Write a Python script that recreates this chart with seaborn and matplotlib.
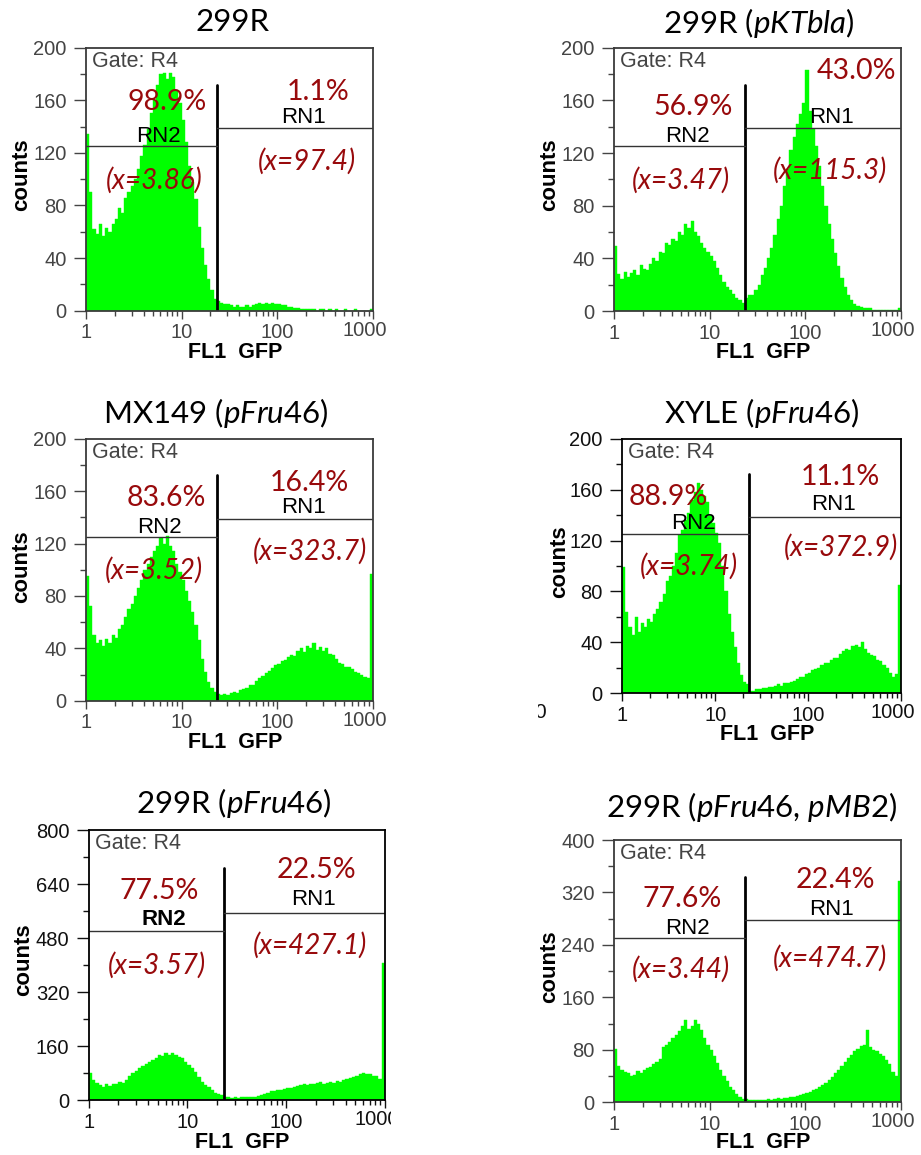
import numpy as np
import pandas as pd
import matplotlib
matplotlib.use("Agg")
import matplotlib.pyplot as plt
from matplotlib.patches import Rectangle
from matplotlib.ticker import FixedLocator, FixedFormatter, NullFormatter, MultipleLocator
import seaborn as sns

W, H = 921, 1155

# ---------------- data (counts per channel, 30 channels / decade, 1..1000) ----------------
titles = ["299R",
          "299R ($\\mathit{pKTbla}$)",
          "MX149 ($\\mathit{pFru46}$)",
          "XYLE ($\\mathit{pFru46}$)",
          "299R ($\\mathit{pFru46}$)",
          "299R ($\\mathit{pFru46}$, $\\mathit{pMB2}$)"]
y_max = [200, 200, 200, 200, 800, 400]
y_step = [40, 40, 40, 40, 160, 80]
x_ticks = [1, 10, 100, 1000]
x_tick_labels = ["1", "10", "100", "1000"]
gate_x = 23.3
pct_rn2 = ["98.9%", "56.9%", "83.6%", "88.9%", "77.5%", "77.6%"]
pct_rn1 = ["1.1%", "43.0%", "16.4%", "11.1%", "22.5%", "22.4%"]
mean_rn2 = ["(x=3.86)", "(x=3.47)", "(x=3.52)", "(x=3.74)", "(x=3.57)", "(x=3.44)"]
mean_rn1 = ["(x=97.4)", "(x=115.3)", "(x=323.7)", "(x=372.9)", "(x=427.1)", "(x=474.7)"]

counts_299R = [134, 90, 62, 58, 66, 57, 63, 60, 66, 70,
               78, 74, 86, 90, 95, 100, 108, 118, 126, 138,
               150, 160, 172, 180, 181, 176, 181, 178, 168, 158,
               145, 128, 110, 98, 85, 64, 48, 35, 24, 16,
               9, 7, 6, 5, 5, 4, 3, 4, 3, 3,
               4, 3, 4, 5, 6, 5, 6, 5, 6, 5,
               5, 4, 4, 3, 3, 2, 2, 1, 1, 1,
               1, 1, 0, 1, 1, 0, 1, 0, 1, 0,
               0, 1, 0, 0, 1, 0, 0, 0, 0, 1]
counts_pKTbla = [49, 28, 24, 30, 26, 29, 31, 27, 35, 32,
                 31, 36, 40, 38, 45, 44, 52, 50, 55, 53,
                 60, 58, 66, 63, 68, 60, 57, 52, 48, 45,
                 42, 38, 33, 27, 22, 18, 16, 13, 10, 8,
                 6, 10, 12, 12, 16, 20, 27, 33, 40, 48,
                 58, 70, 80, 95, 108, 122, 132, 142, 150, 158,
                 183, 152, 138, 125, 110, 95, 80, 66, 55, 44,
                 34, 25, 18, 12, 8, 5, 4, 3, 2, 2,
                 2, 1, 1, 1, 1, 1, 1, 1, 1, 2]
counts_MX149 = [95, 72, 50, 44, 46, 42, 47, 44, 50, 48,
                55, 58, 64, 70, 74, 80, 86, 92, 100, 104,
                110, 114, 118, 124, 120, 126, 118, 114, 104, 98,
                92, 84, 76, 68, 58, 46, 32, 22, 14, 10,
                7, 5, 4, 5, 4, 6, 7, 6, 8, 9,
                10, 12, 12, 15, 17, 19, 21, 23, 25, 27,
                28, 30, 31, 33, 35, 34, 38, 40, 37, 42,
                40, 44, 39, 41, 38, 40, 36, 35, 32, 29,
                28, 26, 26, 24, 22, 21, 20, 18, 17, 97]
counts_XYLE = [99, 64, 52, 46, 60, 48, 55, 52, 58, 56,
               62, 66, 72, 78, 88, 92, 100, 110, 124, 128,
               136, 142, 152, 158, 165, 160, 155, 150, 140, 134,
               126, 118, 100, 80, 62, 48, 36, 24, 14, 9,
               7, 2, 2, 3, 3, 4, 4, 5, 5, 6,
               7, 6, 8, 8, 9, 10, 11, 13, 13, 15,
               16, 18, 19, 20, 22, 24, 24, 26, 28, 28,
               31, 33, 35, 34, 37, 38, 36, 40, 35, 32,
               30, 29, 26, 25, 22, 20, 16, 13, 15, 85]
counts_pFru46 = [80, 58, 50, 44, 40, 46, 42, 48, 46, 52,
                 50, 60, 72, 80, 86, 95, 100, 106, 112, 118,
                 126, 134, 130, 140, 134, 138, 132, 128, 124, 112,
                 104, 95, 84, 68, 52, 44, 38, 30, 22, 18,
                 14, 8, 8, 7, 8, 7, 8, 8, 9, 10,
                 10, 12, 14, 18, 22, 26, 28, 30, 29, 34,
                 36, 36, 40, 43, 44, 46, 44, 48, 46, 50,
                 52, 48, 50, 52, 50, 55, 54, 58, 62, 66,
                 68, 72, 76, 80, 76, 78, 72, 70, 62, 405]
counts_pMB2 = [82, 55, 50, 46, 44, 40, 42, 48, 44, 50,
               52, 54, 58, 62, 66, 84, 88, 92, 98, 102,
               108, 116, 126, 112, 116, 126, 120, 110, 98, 88,
               80, 70, 60, 50, 40, 32, 24, 18, 12, 8,
               5, 5, 3, 4, 3, 3, 4, 3, 5, 4,
               5, 6, 5, 7, 6, 8, 8, 10, 11, 13,
               14, 16, 19, 20, 24, 26, 30, 34, 38, 44,
               50, 56, 62, 68, 72, 78, 82, 86, 88, 110,
               84, 80, 78, 74, 70, 64, 58, 46, 40, 338]
panel_counts = [counts_299R, counts_pKTbla, counts_MX149,
                counts_XYLE, counts_pFru46, counts_pMB2]

# ---------------- layout (pixels) ----------------
axes_px = [(86, 47.7, 373, 310.7), (614, 47.7, 901, 311),
           (86, 438.7, 373, 700.7), (622.3, 438.7, 901, 693.3),
           (88.7, 830.3, 385, 1100), (614, 840, 901, 1102.3)]
title_px = [(233, 30.7), (759, 33.3), (216, 423.3), (762, 423.3), (233.7, 812.7), (752, 817.3)]
xlabel_px = [(235, 352), (763, 352), (235, 742), (766.7, 735), (242, 1142), (763, 1143)]
ylabel_px = [(21.7, 175), (550, 175), (21.7, 566.7), (560, 561.7), (23.3, 960), (550, 966.7)]
txt_pos = [
    dict(p2=(0.282, 0.795), p1=(0.81, 0.833), r2=(0.254, 0.664), r1=(0.757, 0.736), m2=(0.237, 0.497), m1=(0.77, 0.569)),
    dict(p2=(0.276, 0.773), p1=(0.846, 0.911), r2=(0.257, 0.664), r1=(0.758, 0.735), m2=(0.232, 0.497), m1=(0.753, 0.535)),
    dict(p2=(0.281, 0.772), p1=(0.779, 0.832), r2=(0.255, 0.662), r1=(0.758, 0.737), m2=(0.237, 0.496), m1=(0.781, 0.569)),
    dict(p2=(0.165, 0.772), p1=(0.781, 0.848), r2=(0.255, 0.667), r1=(0.757, 0.742), m2=(0.239, 0.497), m1=(0.785, 0.572)),
    dict(p2=(0.237, 0.776), p1=(0.769, 0.853), r2=(0.255, 0.670), r1=(0.758, 0.742), m2=(0.229, 0.500), m1=(0.747, 0.575)),
    dict(p2=(0.239, 0.774), p1=(0.773, 0.848), r2=(0.257, 0.663), r1=(0.758, 0.736), m2=(0.232, 0.507), m1=(0.753, 0.549)),
]
frame_col = ["#3a3a3a", "#3a3a3a", "#3a3a3a", "#000000", "#000000", "#3a3a3a"]
tick_col = ["#444444", "#444444", "#444444", "#111111", "#111111", "#444444"]
rn_weight = ["normal", "normal", "normal", "normal", "bold", "normal"]

sns.set_style("ticks")
plt.rcParams["font.family"] = ["Liberation Sans", "DejaVu Sans"]
plt.rcParams["mathtext.fontset"] = "custom"
plt.rcParams["mathtext.rm"] = "Lato"
plt.rcParams["mathtext.it"] = "Lato:italic"
plt.rcParams["mathtext.bf"] = "Lato:bold"

RED = "#980a0c"
GREEN = "#00ff00"
HUM = ["Lato", "DejaVu Sans"]
TICK_FS = 14.5

fig = plt.figure(figsize=(W / 100, H / 100), dpi=100)
fig.patch.set_facecolor("white")


def fx(px):
    return px / W


def fy(py):
    return 1 - py / H


log_edges = np.linspace(0, 3, 91)
centers = 10 ** ((log_edges[:-1] + log_edges[1:]) / 2)

for i in range(6):
    l, t, r, b = axes_px[i]
    ax = fig.add_axes([fx(l), fy(b), (r - l) / W, (b - t) / H])
    df = pd.DataFrame({"gfp": centers, "count": panel_counts[i]})
    sns.histplot(data=df, x="gfp", weights="count", bins=90, binrange=(0, 3),
                 log_scale=True, ax=ax, color=GREEN, alpha=1.0,
                 edgecolor=GREEN, linewidth=0.3, zorder=2)
    ax.set_xlim(1, 1000)
    ax.set_ylim(0, y_max[i])
    ax.set_xlabel("")
    ax.set_ylabel("")

    # the last decade label sits slightly left of its tick in the original
    ax.xaxis.set_major_locator(FixedLocator(x_ticks))
    ax.xaxis.set_major_formatter(FixedFormatter(x_tick_labels[:-1] + [""]))
    minors = [m * 10 ** d for d in range(3) for m in range(2, 10)]
    ax.xaxis.set_minor_locator(FixedLocator(minors))
    ax.xaxis.set_minor_formatter(NullFormatter())
    ax.yaxis.set_major_locator(MultipleLocator(y_step[i]))
    ax.yaxis.set_minor_locator(MultipleLocator(y_step[i] / 2))

    for s in ax.spines.values():
        s.set_visible(True)
        s.set_color(frame_col[i])
        s.set_linewidth(1.3)
        s.set_zorder(5)
    ax.tick_params(axis="y", which="major", length=9, width=1, pad=5,
                   labelsize=TICK_FS, colors=tick_col[i], direction="out")
    ax.tick_params(axis="y", which="minor", length=4.5, width=1,
                   colors=tick_col[i], direction="out")
    ax.tick_params(axis="x", which="major", length=6, width=1, pad=3,
                   labelsize=TICK_FS, colors=tick_col[i], direction="out")
    ax.tick_params(axis="x", which="minor", length=3.5, width=1,
                   colors=tick_col[i], direction="out")
    ax.tick_params(top=False, right=False)
    ax.annotate(x_tick_labels[-1], xy=(1, 0), xycoords="axes fraction",
                xytext=(-8, -10), textcoords="offset pixels", ha="center", va="top",
                fontsize=TICK_FS, color=tick_col[i])

    ym = y_max[i]
    # gate lines
    ax.plot([gate_x, gate_x], [0, 0.86 * ym], color="black", lw=2.0, zorder=4)
    ax.plot([1, gate_x], [0.625 * ym, 0.625 * ym], color="#333333", lw=1.0, zorder=4)
    ax.plot([gate_x, 1000], [0.694 * ym, 0.694 * ym], color="#333333", lw=1.0, zorder=4)

    ax.text(6 / (r - l), 1 - 19 / (b - t), "Gate: R4", transform=ax.transAxes,
            ha="left", va="baseline", fontsize=15.5, color="#444444", zorder=6)

    p = txt_pos[i]
    ax.text(*p["p2"], pct_rn2[i], transform=ax.transAxes, ha="center", va="center",
            fontsize=20.5, color=RED, family=HUM, zorder=6)
    ax.text(*p["p1"], pct_rn1[i], transform=ax.transAxes, ha="center", va="center",
            fontsize=20.5, color=RED, family=HUM, zorder=6)
    ax.text(*p["r2"], "RN2", transform=ax.transAxes, ha="center", va="center",
            fontsize=16, color="black", fontweight=rn_weight[i], zorder=6)
    ax.text(*p["r1"], "RN1", transform=ax.transAxes, ha="center", va="center",
            fontsize=16, color="black", zorder=6)
    ax.text(*p["m2"], mean_rn2[i], transform=ax.transAxes, ha="center", va="center",
            fontsize=20, color=RED, family=HUM, style="italic", zorder=6)
    ax.text(*p["m1"], mean_rn1[i], transform=ax.transAxes, ha="center", va="center",
            fontsize=20, color=RED, family=HUM, style="italic", zorder=6)

    tx, ty = title_px[i]
    fig.text(fx(tx), fy(ty), titles[i], ha="center", va="baseline",
             fontsize=22.5, color="black", family=HUM)
    lx, ly = xlabel_px[i]
    fig.text(fx(lx), fy(ly), "FL1  GFP", ha="center", va="center",
             fontsize=15.5, fontweight="bold", color="black")
    cx, cy = ylabel_px[i]
    fig.text(fx(cx), fy(cy), "counts", ha="center", va="center", rotation=90,
             fontsize=16, fontweight="bold", color="black")

# cropped artefacts of the original composite
fig.text(fx(540), fy(712), "0", ha="center", va="center", fontsize=15, color="#111111")
fig.add_artist(Rectangle((fx(528), fy(722)), (538 - 528) / W, 20 / H,
                         transform=fig.transFigure, facecolor="white", edgecolor="none", zorder=20))
fig.add_artist(Rectangle((fx(391), fy(1130)), 40 / W, 30 / H,
                         transform=fig.transFigure, facecolor="white", edgecolor="none", zorder=20))

fig.savefig("out.png", dpi=100, facecolor="white")
